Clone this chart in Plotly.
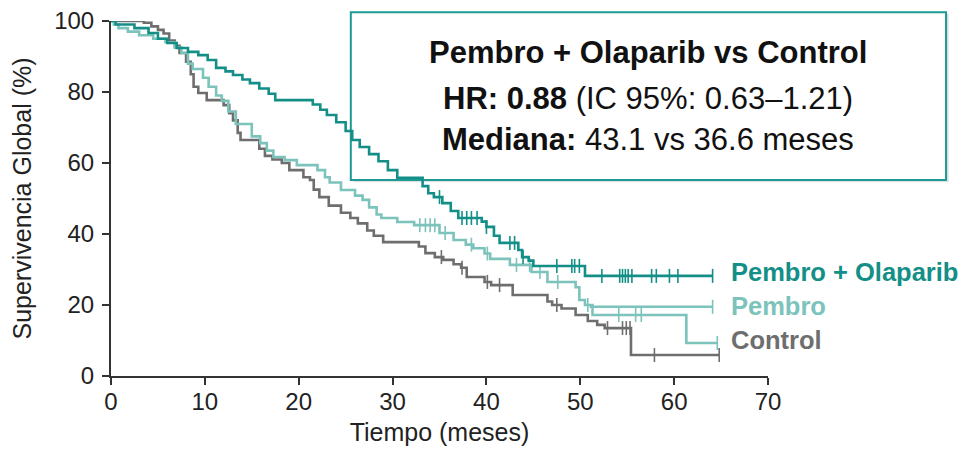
import plotly.graph_objects as go
import bisect

# ---- data ----
po_t = [0, 0.5, 2.5, 4, 5, 6, 7, 8.2, 9.3, 10.3, 11.2, 12.2, 13, 14, 14.8, 15.8, 16.8, 17.5,
        21.5, 22.3, 23, 24, 25, 25.7, 26.5, 27.5, 28.5, 29.5, 30.5, 33.2, 33.8, 34.4, 35.3,
        36.2, 37, 39.5, 40, 40.8, 41.4, 43.4, 43.8, 44.5, 45, 50.5]
po_s = [100, 99, 98, 96.6, 95, 93.8, 92.4, 91.3, 90.4, 89, 86.8, 85.8, 84.8, 83.5, 82.5, 81, 79.5, 77.7,
        76.5, 75, 73.5, 71.5, 69, 66.5, 64.5, 62.5, 60.5, 58, 55.8, 53.5, 51.5, 50.4, 48.7,
        46.5, 44.5, 43.5, 42, 39.5, 37.5, 35.5, 33.5, 32.5, 31, 28.2]
po_end = 64.1
po_cens = [35, 37.4, 37.9, 38.4, 39, 40, 42.5, 43, 43.9, 47.5, 49.1, 49.4, 49.9,
           52.3, 54.2, 54.5, 54.8, 55.1, 55.5, 57.6, 58.1, 59.5, 60.4, 64.1]

pe_t = [0, 0.3, 0.8, 1.8, 3, 4.5, 5.8, 6.8, 7.5, 8.2, 8.7, 9.8, 10.4, 11.2, 11.8, 12.5, 13.3,
        15.0, 15.9, 16.6, 17.3, 18.5, 19.8, 22, 22.8, 23.3, 24.5, 26, 26.8, 27.5, 28.3, 28.8,
        30.5, 32.3, 35, 36.5, 37.8, 38.6, 39.8, 40.4, 42.5, 44.8, 46.5, 49.5, 49.9, 50.5, 51.3, 61.3]
pe_s = [100, 99, 98, 97, 96, 95, 94, 92.5, 91, 88, 86.5, 84, 81.5, 79, 77.5, 74.5, 71,
        67.5, 65.6, 63.5, 61.7, 60.8, 59.4, 58, 56, 54.5, 52.4, 50.8, 49.6, 47.5, 45.5, 44.5,
        43.4, 42.5, 40.3, 38.3, 37, 36, 34.5, 33, 31.3, 29.3, 26.5, 25, 21.4, 20, 17.2, 9.3]
pe_end = 64.6
pe_cens = [32.9, 33.5, 34.0, 34.5, 35.6, 38.4, 40.1, 43.2, 44.6, 45.7, 47.6, 50.8,
           54.1, 55.9, 56.5, 64.6]
pe2_t = [51.0, 64.1]
pe2_s = [19.5, 19.5]
pe2_cens = [64.1]

co_t = [0, 3.5, 4.3, 5, 5.6, 6.2, 6.8, 7.3, 8, 8.5, 8.8, 9.3, 10.2, 12, 12.6, 13, 13.5, 13.8,
        15.8, 16.4, 17.2, 18.2, 19, 20.5, 21.2, 21.6, 22.2, 23.2, 24.5, 25.5, 26.3, 27.3, 28, 29,
        32.8, 33.5, 34.5, 35.4, 36.5, 37.3, 37.9, 39.8, 40.5, 42.8, 46.5, 47, 48, 49.5, 50.8,
        51.8, 52.6, 55.4]
co_s = [100, 99.5, 98.5, 97.5, 96.5, 94.5, 93, 91, 88.5, 85, 81.5, 79.7, 77.7, 76.3, 74, 72, 68.5, 66.5,
        64, 62, 61, 60, 58, 56, 55.2, 52.5, 50.4, 48, 46, 44.5, 43, 41, 39.5, 37.7,
        36.5, 34.6, 33.5, 32.7, 31.5, 30.5, 27.9, 26.5, 25.6, 22.8, 21, 20, 19, 17.2, 15.5,
        14.4, 13.5, 5.9]
co_end = 64.8
co_cens = [35.2, 37.4, 40.1, 41.4, 47.5, 52.9, 54.5, 54.9, 55.3, 57.9, 64.8]

x_ticks = [0, 10, 20, 30, 40, 50, 60, 70]
y_ticks = [0, 20, 40, 60, 80, 100]

C_PO = "#138f88"
C_PE = "#7cc3bb"
C_CO = "#6e6e6e"
FONT = "Liberation Sans, Arial, sans-serif"


def step_val(ts, ss, t):
    i = bisect.bisect_right(ts, t) - 1
    return ss[max(i, 0)]


fig = go.Figure()


def add_curve(ts, ss, end, cens, color, name):
    xs = list(ts) + [end]
    ys = list(ss) + [ss[-1]]
    fig.add_trace(go.Scatter(x=xs, y=ys, mode="lines", line=dict(color=color, width=2.6, shape="hv"),
                             name=name, showlegend=False, cliponaxis=False, hoverinfo="skip"))
    fig.add_trace(go.Scatter(x=cens, y=[step_val(ts, ss, c) for c in cens], mode="markers",
                             marker=dict(symbol="line-ns", size=10, line=dict(color=color, width=1.6)),
                             showlegend=False, cliponaxis=False, hoverinfo="skip"))


add_curve(co_t, co_s, co_end, co_cens, C_CO, "Control")
add_curve(pe_t, pe_s, pe_end, pe_cens, C_PE, "Pembro")
add_curve(pe2_t, pe2_s, pe2_t[-1], pe2_cens, C_PE, "Pembro")
add_curve(po_t, po_s, po_end, po_cens, C_PO, "Pembro + Olaparib")

# info box (shadow + box)
fig.add_shape(type="rect", xref="paper", yref="paper", x0=0.369, x1=1.275, y0=0.546, y1=1.020,
              line=dict(width=0), fillcolor="rgba(0,0,0,0.12)", layer="below")
fig.add_shape(type="rect", xref="paper", yref="paper", x0=0.365, x1=1.271, y0=0.552, y1=1.025,
              line=dict(color="#1d9a93", width=2), fillcolor="white", layer="below")

bx = 0.818
BOX_FS = 31
fig.add_annotation(xref="paper", yref="paper", x=bx, y=0.912, xanchor="center", yanchor="middle",
                   text="<b>Pembro + Olaparib vs Control</b>",
                   showarrow=False, font=dict(size=BOX_FS, color="#111", family=FONT))
fig.add_annotation(xref="paper", yref="paper", x=bx, y=0.783, xanchor="center", yanchor="middle",
                   text="<b>HR: 0.88</b> (IC 95%: 0.63–1.21)",
                   showarrow=False, font=dict(size=BOX_FS, color="#111", family=FONT))
fig.add_annotation(xref="paper", yref="paper", x=bx, y=0.667, xanchor="center", yanchor="middle",
                   text="<b>Mediana:</b> 43.1 vs 36.6 meses",
                   showarrow=False, font=dict(size=BOX_FS, color="#111", family=FONT))

# end labels
for txt, yv, col in [("Pembro + Olaparib", 29.3, C_PO), ("Pembro", 19.7, C_PE), ("Control", 10.1, C_CO)]:
    fig.add_annotation(xref="x", yref="y", x=65.8, y=yv, text=f"<b>{txt}</b>", xanchor="left",
                       yanchor="middle", showarrow=False, font=dict(size=25.5, color=col, family=FONT))

fig.update_layout(
    width=965, height=451,
    margin=dict(l=111, r=197, t=21, b=75),
    paper_bgcolor="white", plot_bgcolor="white",
    font=dict(family=FONT, size=24, color="#222"),
    xaxis=dict(range=[0, 70], tickvals=x_ticks, showgrid=False, zeroline=False, showline=True,
               linecolor="#333", linewidth=2, ticks="outside", ticklen=7, tickwidth=1.5, tickcolor="#333",
               title=dict(text="Tiempo (meses)", font=dict(size=25), standoff=10),
               tickfont=dict(size=24), automargin=False, ticklabelstandoff=-4),
    yaxis=dict(range=[0, 100], tickvals=y_ticks, showgrid=False, zeroline=False, showline=True,
               linecolor="#333", linewidth=2, ticks="outside", ticklen=7, tickwidth=1.5, tickcolor="#333",
               title=dict(text="Supervivencia Global (%)", font=dict(size=25), standoff=15),
               tickfont=dict(size=24), automargin=False, ticklabelstandoff=3),
)

fig.write_html("out.html")
